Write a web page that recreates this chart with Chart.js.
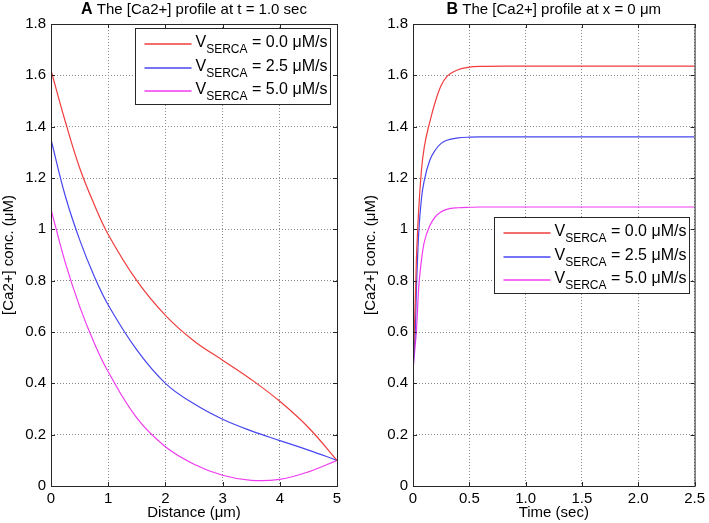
<!DOCTYPE html>
<html>
<head>
<meta charset="utf-8">
<script src="https://cdn.jsdelivr.net/npm/chart.js@4"></script>
<style>
  body { margin: 0; background: #fff; }
  canvas { position: absolute; top: 0; }
</style>
</head>
<body>
<canvas id="chartA" width="354" height="523" style="left:0px"></canvas>
<canvas id="chartB" width="347" height="523" style="left:362px"></canvas>
<script>
// panel A: profile along distance at t = 1.0 sec
const distance = [0, 0.25, 0.5, 0.75, 1, 1.5, 2, 2.5, 3, 3.5, 4, 4.5, 5]
const distV0 = [1.62, 1.42, 1.24, 1.10, 0.98, 0.80, 0.665, 0.565, 0.49, 0.415, 0.33, 0.228, 0.10]
const distV25 = [1.35, 1.13, 0.96, 0.82, 0.705, 0.53, 0.40, 0.32, 0.26, 0.215, 0.177, 0.14, 0.10]
const distV50 = [1.078, 0.87, 0.70, 0.56, 0.445, 0.265, 0.153, 0.085, 0.042, 0.022, 0.026, 0.055, 0.10]

// panel B: time course at x = 0 um
const time = [0, 0.01, 0.02, 0.03, 0.05, 0.075, 0.1, 0.15, 0.2, 0.25, 0.3, 0.4, 0.5, 0.6, 0.8, 1.0, 1.5, 2.0, 2.5]
const timeV0 = [0.45, 0.58, 0.72, 0.88, 1.07, 1.23, 1.32, 1.42, 1.50, 1.56, 1.595, 1.622, 1.632, 1.635, 1.636, 1.636, 1.636, 1.636, 1.636]
const timeV25 = [0.45, 0.53, 0.60, 0.76, 0.98, 1.12, 1.19, 1.27, 1.31, 1.335, 1.347, 1.356, 1.359, 1.36, 1.36, 1.36, 1.36, 1.36, 1.36]
const timeV50 = [0.45, 0.50, 0.55, 0.60, 0.77, 0.88, 0.95, 1.015, 1.05, 1.068, 1.078, 1.084, 1.086, 1.087, 1.087, 1.087, 1.087, 1.087, 1.087]

const seriesLabels = ['0.0', '2.5', '5.0']
const seriesColors = ['#f03c3c', '#4646f0', '#f03cf0']
const yTicks = [0, 0.2, 0.4, 0.6, 0.8, 1, 1.2, 1.4, 1.6, 1.8]

const FONT = 'Arial, "Liberation Sans", sans-serif'

function pts(xs, ys) {
    return xs.map((x, i) => ({ x, y: ys[i] }))
}

// matlab-ish box, inward ticks, title and legend
const matlabBox = {
    id: 'matlabBox',
    afterDatasetsDraw(chart, args, opts) {
        const { ctx, chartArea: a, scales } = chart
        ctx.save()
        ctx.strokeStyle = '#262626'
        ctx.lineWidth = 1
        ctx.strokeRect(a.left + 0.5, a.top + 0.5, a.right - a.left, a.bottom - a.top)
        ctx.beginPath()
        scales.x.ticks.forEach(t => {
            let px = Math.round(scales.x.getPixelForValue(t.value)) + 0.5
            ctx.moveTo(px, a.bottom); ctx.lineTo(px, a.bottom - 4)
            ctx.moveTo(px, a.top); ctx.lineTo(px, a.top + 4)
        })
        scales.y.ticks.forEach(t => {
            let py = Math.round(scales.y.getPixelForValue(t.value)) + 0.5
            ctx.moveTo(a.left, py); ctx.lineTo(a.left + 4, py)
            ctx.moveTo(a.right, py); ctx.lineTo(a.right - 4, py)
        })
        ctx.stroke()

        // title: bold letter + plain text
        ctx.fillStyle = '#000'
        ctx.textBaseline = 'alphabetic'
        ctx.font = 'bold 16px ' + FONT
        let wb = ctx.measureText(opts.letter).width
        ctx.font = '15px ' + FONT
        let wt = ctx.measureText(' ' + opts.title).width
        let sx = (a.left + a.right) / 2 - (wb + wt) / 2
        ctx.font = 'bold 16px ' + FONT
        ctx.fillText(opts.letter, sx, 14)
        ctx.font = '15px ' + FONT
        ctx.fillText(' ' + opts.title, sx + wb, 14)

        // legend
        const w = 195, h = 76
        let lx = Math.round(a.right - opts.legendRight - w) + 0.5
        let ly = Math.round(a.top + opts.legendTop) + 0.5
        ctx.fillStyle = '#fff'
        ctx.fillRect(lx, ly, w, h)
        ctx.strokeStyle = '#262626'
        ctx.strokeRect(lx, ly, w, h)
        const rows = [15, 39, 62]
        seriesLabels.forEach((lab, i) => {
            let ry = Math.round(ly + rows[i])
            ctx.strokeStyle = seriesColors[i]
            ctx.lineWidth = 1.6
            ctx.beginPath()
            ctx.moveTo(lx + 9, ry)
            ctx.lineTo(lx + 56, ry)
            ctx.stroke()
            ctx.fillStyle = '#000'
            let tx = lx + 60
            ctx.font = '16px ' + FONT
            ctx.fillText('V', tx, ry + 3)
            tx += ctx.measureText('V').width
            ctx.font = '12px ' + FONT
            ctx.fillText('SERCA', tx, ry + 9)
            tx += ctx.measureText('SERCA').width
            ctx.font = '16px ' + FONT
            ctx.fillText(' = ' + lab + ' μM/s', tx, ry + 3)
        })
        ctx.restore()
    }
}

function makeChart(id, xs, ys, xMax, xStep, xTitle, letter, title, legendRight, legendTop, padRight, tension) {
    const datasets = ys.map((y, i) => ({
        label: 'VSERCA = ' + seriesLabels[i] + ' μM/s',
        data: pts(xs, y),
        borderColor: seriesColors[i],
        borderWidth: 1.2,
        pointRadius: 0,
        tension,
        fill: false
    }))
    if (tension === 0) datasets.forEach(d => { d.cubicInterpolationMode = 'monotone' })
    return new Chart(document.getElementById(id), {
        type: 'line',
        data: { datasets },
        options: {
            responsive: false,
            animation: false,
            layout: { padding: { top: 24, right: padRight, left: 0, bottom: 0 } },
            plugins: {
                legend: { display: false },
                tooltip: { enabled: false },
                matlabBox: { letter, title, legendRight, legendTop }
            },
            scales: {
                x: {
                    type: 'linear',
                    min: 0,
                    max: xMax,
                    afterFit: s => { s.height = 37 },
                    ticks: { stepSize: xStep, padding: 4, color: '#000', font: { family: FONT, size: 15 }, maxRotation: 0 },
                    grid: { color: '#8a8a8a', drawTicks: false, lineWidth: 1 },
                    border: { display: false, dash: [1, 2] },
                    title: { display: true, text: xTitle, color: '#000', font: { family: FONT, size: 15 }, padding: { top: 0, bottom: 1 } }
                },
                y: {
                    min: 0,
                    max: 1.8,
                    afterFit: s => { s.width = 51 },
                    afterBuildTicks: s => { s.ticks = yTicks.map(v => ({ value: v })) },
                    ticks: { padding: 5, color: '#000', font: { family: FONT, size: 15 }, callback: v => String(Math.round(v * 10) / 10) },
                    grid: { color: '#8a8a8a', drawTicks: false, lineWidth: 1 },
                    border: { display: false, dash: [1, 2] },
                    title: { display: true, text: '[Ca2+] conc. (μM)', color: '#000', font: { family: FONT, size: 15 }, padding: { top: 0, bottom: 0 } }
                }
            }
        },
        plugins: [matlabBox]
    })
}

makeChart('chartA', distance, [distV0, distV25, distV50], 5, 1, 'Distance (μm)', 'A', 'The [Ca2+] profile at t = 1.0 sec', 7, 4, 17, 0.4)
makeChart('chartB', time, [timeV0, timeV25, timeV50], 2.5, 0.5, 'Time (sec)', 'B', 'The [Ca2+] profile at x = 0 μm', 6, 193, 10, 0)
</script>
</body>
</html>
